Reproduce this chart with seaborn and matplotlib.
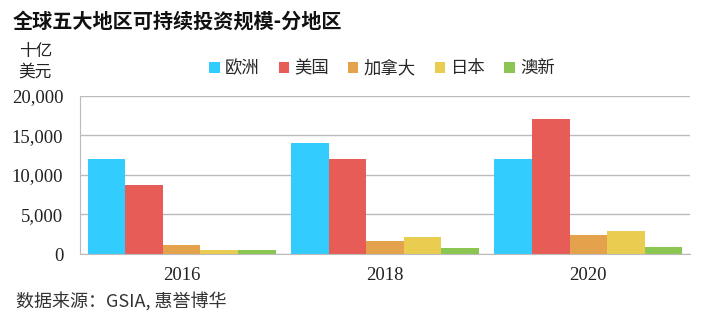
import matplotlib
matplotlib.use("Agg")
import matplotlib.pyplot as plt
import seaborn as sns
import pandas as pd

years = ["2016", "2018", "2020"]
regions = ["欧洲", "美国", "加拿大", "日本", "澳新"]
europe = [12040, 14075, 12017]
usa = [8723, 11995, 17081]
canada = [1086, 1699, 2423]
japan = [474, 2180, 2874]
australia = [516, 734, 906]
colors = ["#33CCFF", "#E85C57", "#E5A24C", "#E9CC50", "#8BC652"]

series = [europe, usa, canada, japan, australia]
df = pd.DataFrame(
    [(y, r, v[i]) for r, v in zip(regions, series) for i, y in enumerate(years)],
    columns=["year", "region", "value"],
)

sns.set_style("white")
plt.rcParams["font.family"] = ["Noto Sans CJK SC", "DejaVu Sans"]
num_font = "Liberation Serif"

fig = plt.figure(figsize=(7.07, 3.24), dpi=100)
ax = fig.add_axes([0.113, 0.216, 0.863, 0.488])

sns.barplot(data=df, x="year", y="value", hue="region", hue_order=regions,
            palette=colors, width=0.925, gap=0, saturation=1, ax=ax,
            edgecolor="none", linewidth=0)

yticks = [0, 5000, 10000, 15000, 20000]
ax.set_ylim(0, 20000)
ax.set_yticks(yticks, labels=[f"{t:,}" for t in yticks],
              fontfamily=num_font, fontsize=13.5, color="#222222")
ax.set_xticks(range(len(years)), labels=years,
              fontfamily=num_font, fontsize=13.5, color="#222222")
ax.tick_params(axis="both", length=0)
ax.tick_params(axis="x", pad=9)
ax.tick_params(axis="y", pad=12)
ax.set_xlabel("")
ax.set_ylabel("")
ax.grid(axis="y", color="#BBBBBB", linewidth=1)
ax.set_axisbelow(True)
for s in ["top", "right"]:
    ax.spines[s].set_visible(False)
ax.spines["left"].set_color("#BBBBBB")
ax.spines["bottom"].set_color("#BBBBBB")

ax.legend(loc="center", bbox_to_anchor=(0.495, 1.175), ncol=5, frameon=False,
          fontsize=12.5, handlelength=0.6, handleheight=0.6, handletextpad=0.3,
          columnspacing=1.1)

fig.text(0.018, 0.935, "全球五大地区可持续投资规模-分地区", fontsize=14.5,
         fontweight="bold", color="#111111", va="center")
fig.text(0.05, 0.81, "十亿\n美元", fontsize=12, color="#222222",
         ha="center", va="center", linespacing=1.3)
fig.text(0.022, 0.072, "数据来源：GSIA, 惠誉博华", fontsize=13, color="#333333",
         va="center")

fig.savefig("out.png", dpi=100)
